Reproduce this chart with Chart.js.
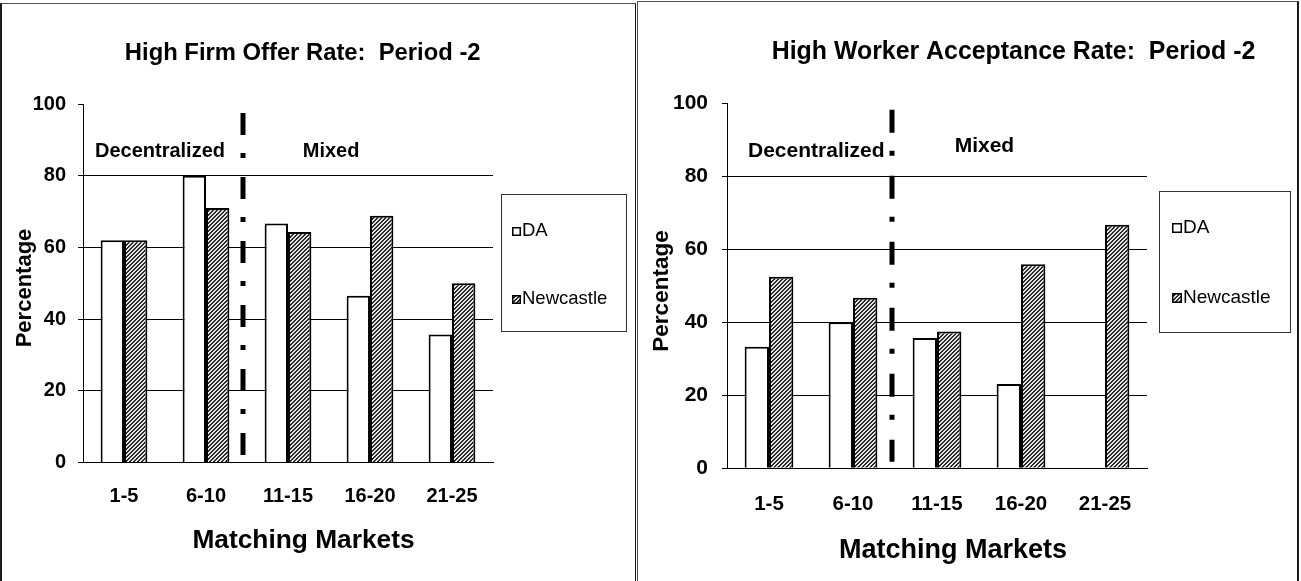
<!DOCTYPE html>
<html>
<head>
<meta charset="utf-8">
<script src="https://cdn.jsdelivr.net/npm/chart.js@4.4.1/dist/chart.umd.min.js"></script>
<style>
  html, body { margin: 0; padding: 0; background: #fff; width: 1301px; height: 581px; overflow: hidden; }
  .panel { position: absolute; box-sizing: border-box; }
  #p1 { left: 0; top: 3px; width: 636px; height: 620px; border-left: 2px solid #1a1a1a; border-top: 1px solid #555; border-right: 1px solid #1a1a1a; }
  #p2 { left: 637px; top: 1px; width: 662px; height: 620px; border-left: 1px solid #555; border-top: 1px solid #555; border-right: 2px solid #1a1a1a; }
  canvas { position: absolute; }
  #c1 { left: 2px; top: 4px; }
  #c2 { left: 638px; top: 2px; }
</style>
</head>
<body>
<div class="panel" id="p1"></div>
<div class="panel" id="p2"></div>
<canvas id="c1" width="633" height="577" style="width:633px;height:577px"></canvas>
<canvas id="c2" width="658" height="579" style="width:658px;height:579px"></canvas>
<script>
// Market groups and the two treatments
const categories = ['1-5', '6-10', '11-15', '16-20', '21-25'];
const seriesNames = ['DA', 'Newcastle'];
const yTicks = [0, 20, 40, 60, 80, 100];

// High firm offer rate, period -2 (percent)
const offerDA = [62, 80, 66.7, 46.5, 35.7];
const offerNewcastle = [62, 71, 64.3, 68.8, 50];

// High worker acceptance rate, period -2 (percent)
const acceptDA = [33.3, 40, 35.7, 23.1, 0];
const acceptNewcastle = [52.5, 46.7, 37.5, 55.9, 66.7];

const FONT = "'Liberation Sans', Arial, Helvetica, sans-serif";

// Diagonal hatch fill for the Newcastle bars
function hatchPattern() {
  const t = document.createElement('canvas');
  t.width = 4; t.height = 4;
  const g = t.getContext('2d');
  g.fillStyle = '#e6e6e6';
  g.fillRect(0, 0, 4, 4);
  g.fillStyle = '#2a2a2a';
  for (let yy = 0; yy < 4; yy++) {
    for (let xx = 0; xx < 4; xx++) {
      if ((xx + yy) % 4 < 2) g.fillRect(xx, yy, 1, 1);
    }
  }
  return g.createPattern(t, 'repeat');
}
const hatch = hatchPattern();

// Title, axis captions, region labels, dash-dot divider and boxed legend
const decor = {
  id: 'decor',
  afterDraw(chart, args, o) {
    const { ctx, scales: { x, y } } = chart;
    ctx.save();

    // dash-dot divider between the two market regimes
    ctx.strokeStyle = '#000';
    ctx.lineWidth = o.divider.width;
    ctx.lineCap = 'butt';
    ctx.setLineDash(o.divider.dash);
    const dx = Math.round(x.getPixelForValue(o.divider.at));
    ctx.beginPath();
    ctx.moveTo(dx, y.getPixelForValue(o.divider.from));
    ctx.lineTo(dx, y.getPixelForValue(o.divider.to));
    ctx.stroke();
    ctx.setLineDash([]);

    ctx.fillStyle = '#000';
    ctx.textBaseline = 'alphabetic';

    // region labels
    ctx.textAlign = 'left';
    ctx.font = 'bold ' + o.regionSize + 'px ' + FONT;
    o.regions.forEach(r => {
      ctx.fillText(r.text, x.getPixelForValue(r.at), y.getPixelForValue(r.level));
    });

    // chart title
    ctx.textAlign = 'center';
    ctx.font = 'bold ' + o.title.size + 'px ' + FONT;
    ctx.fillText(o.title.text, o.title.x, o.title.y);

    // x-axis caption
    ctx.font = 'bold ' + o.xTitle.size + 'px ' + FONT;
    ctx.fillText(o.xTitle.text, o.xTitle.x, o.xTitle.y);

    // y-axis caption, reading upwards
    ctx.save();
    ctx.translate(o.yTitle.x, o.yTitle.y);
    ctx.rotate(-Math.PI / 2);
    ctx.font = 'bold ' + o.yTitle.size + 'px ' + FONT;
    ctx.textBaseline = 'middle';
    ctx.fillText(o.yTitle.text, 0, 0);
    ctx.restore();

    // legend box
    const L = o.legend;
    ctx.lineWidth = 1;
    ctx.strokeStyle = '#333';
    ctx.fillStyle = '#fff';
    ctx.fillRect(L.x, L.y, L.w, L.h);
    ctx.strokeRect(L.x + 0.5, L.y + 0.5, L.w, L.h);
    ctx.textAlign = 'left';
    ctx.font = L.size + 'px ' + FONT;
    chart.data.datasets.forEach((ds, i) => {
      const by = L.rows[i];
      ctx.fillStyle = ds.backgroundColor;
      ctx.fillRect(L.iconX, by - L.icon, L.icon, L.icon);
      ctx.strokeStyle = '#000';
      ctx.lineWidth = 1.5;
      ctx.strokeRect(L.iconX + 0.75, by - L.icon + 0.75, L.icon - 1.5, L.icon - 1.5);
      ctx.fillStyle = '#000';
      ctx.fillText(ds.label, L.iconX + L.icon + 1, by);
    });
    ctx.restore();
  }
};

function makeChart(id, daValues, ncValues, g) {
  return new Chart(document.getElementById(id), {
    type: 'bar',
    data: {
      labels: categories,
      datasets: [
        { label: seriesNames[0], data: daValues, backgroundColor: '#ffffff', borderColor: '#000', borderWidth: 2 },
        { label: seriesNames[1], data: ncValues, backgroundColor: hatch, borderColor: '#000', borderWidth: 2 }
      ]
    },
    options: {
      responsive: false,
      animation: false,
      events: [],
      layout: { padding: { left: 0, top: g.top, right: g.right, bottom: 0 } },
      datasets: { bar: { categoryPercentage: g.catPct, barPercentage: 1.0 } },
      plugins: {
        legend: { display: false },
        tooltip: { enabled: false },
        title: { display: false },
        decor: g.decor
      },
      scales: {
        x: {
          grid: { display: false, drawTicks: false },
          border: { display: true, color: '#000', width: 1 },
          ticks: { color: '#000', padding: g.xTickPad, font: { family: FONT, size: g.xTickSize, weight: 'bold' } },
          afterFit: s => { s.height = g.xHeight; }
        },
        y: {
          min: 0, max: 100,
          afterBuildTicks: s => { s.ticks = yTicks.map(v => ({ value: v })); },
          grid: {
            color: c => (c.tick && (c.tick.value === 0 || c.tick.value === 100)) ? 'rgba(0,0,0,0)' : '#000',
            tickColor: '#000',
            tickLength: 5,
            lineWidth: 1
          },
          border: { display: true, color: '#000', width: 1 },
          ticks: { color: '#000', padding: g.yTickPad, font: { family: FONT, size: g.yTickSize, weight: 'bold' } },
          afterFit: s => { s.width = g.yWidth; }
        }
      }
    },
    plugins: [decor]
  });
}

makeChart('c1', offerDA, offerNewcastle, {
  top: 100, right: 142, catPct: 0.57,
  xHeight: 118.5, xTickPad: 22, xTickSize: 20,
  yWidth: 81, yTickPad: 12, yTickSize: 20,
  decor: {
    divider: { at: 1.45, from: 97.5, to: 2.1, width: 5, dash: [22, 18, 5, 19] },
    regionSize: 20,
    regions: [ { text: 'Decentralized', at: -0.354, level: 85.1 }, { text: 'Mixed', at: 2.18, level: 85.2 } ],
    title: { text: 'High Firm Offer Rate:  Period -2', x: 300.7, y: 56, size: 23.8 },
    xTitle: { text: 'Matching Markets', x: 301.5, y: 544, size: 26.3 },
    yTitle: { text: 'Percentage', x: 23, y: 284, size: 22 },
    legend: { x: 499, y: 190, w: 125, h: 137, size: 18.5, iconX: 510, icon: 9, rows: [232, 300] }
  }
});

makeChart('c2', acceptDA, acceptNewcastle, {
  top: 101.3, right: 149, catPct: 0.58,
  xHeight: 112.7, xTickPad: 23.4, xTickSize: 20.5,
  yWidth: 89, yTickPad: 14, yTickSize: 21,
  decor: {
    divider: { at: 1.46, from: 98.2, to: 1.8, width: 5, dash: [23, 18, 5, 20] },
    regionSize: 21,
    regions: [ { text: 'Decentralized', at: -0.25, level: 85.4 }, { text: 'Mixed', at: 2.21, level: 86.7 } ],
    title: { text: 'High Worker Acceptance Rate:  Period -2', x: 375.5, y: 57, size: 24.9 },
    xTitle: { text: 'Matching Markets', x: 315, y: 556, size: 27 },
    yTitle: { text: 'Percentage', x: 24, y: 289, size: 22.5 },
    legend: { x: 521, y: 189, w: 131, h: 141, size: 19, iconX: 534, icon: 10, rows: [231, 301] }
  }
});
</script>
</body>
</html>
